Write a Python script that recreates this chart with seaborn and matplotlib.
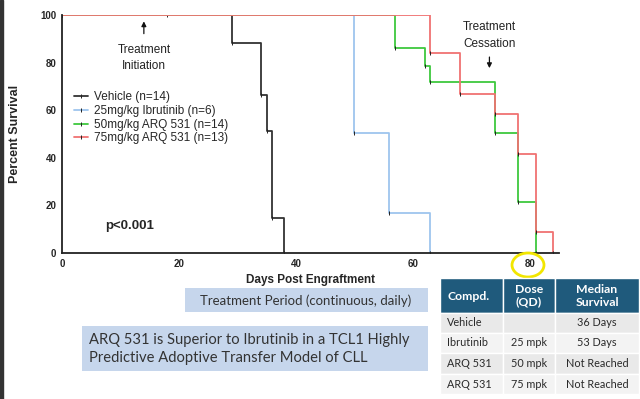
import pandas as pd
import numpy as np
import matplotlib
matplotlib.use("Agg")
from matplotlib import pyplot as plt
from matplotlib.patches import Rectangle, Ellipse
import seaborn as sns

# Kaplan-Meier steps (day, percent survival after the step)
groups = ["Vehicle (n=14)", "25mg/kg Ibrutinib (n=6)", "50mg/kg ARQ 531 (n=14)", "75mg/kg ARQ 531 (n=13)"]
vehicle_days = [0, 18, 29, 34, 35, 36, 38]
vehicle_surv = [100, 100, 88.4, 66.4, 51.3, 14.6, 0]
ibru_days = [0, 50, 56, 63]
ibru_surv = [100, 50.3, 16.7, 0]
arq50_days = [0, 57, 62, 63, 74, 78, 81]
arq50_surv = [100, 86.3, 78.7, 71.7, 50.3, 21.3, 0]
arq75_days = [0, 63, 68, 74, 78, 81, 84]
arq75_surv = [100, 83.9, 66.8, 58.4, 41.7, 8.7, 0]
colors = ["#333333", "#9ec5ee", "#3ec83e", "#f07272"]

x_ticks = [0, 20, 40, 60, 80]
y_ticks = [0, 20, 40, 60, 80, 100]

table_header = ["Compd.", "Dose\n(QD)", "Median\nSurvival"]
table_rows = [["Vehicle", "", "36 Days"],
              ["Ibrutinib", "25 mpk", "53 Days"],
              ["ARQ 531", "50 mpk", "Not Reached"],
              ["ARQ 531", "75 mpk", "Not Reached"]]

frames = []
for name, d, s in zip(groups,
                      [vehicle_days, ibru_days, arq50_days, arq75_days],
                      [vehicle_surv, ibru_surv, arq50_surv, arq75_surv]):
    frames.append(pd.DataFrame({"day": d, "survival": s, "group": name}))
df = pd.concat(frames, ignore_index=True)

sns.set_style("white")
plt.rcParams["font.family"] = ["Liberation Sans", "DejaVu Sans"]

fig = plt.figure(figsize=(6.4, 3.99), dpi=100)
ax = fig.add_axes([62 / 640, 1 - 253 / 399, (559 - 62) / 640, (253 - 15) / 399])

sns.lineplot(data=df, x="day", y="survival", hue="group", hue_order=groups,
             palette=colors, drawstyle="steps-post", estimator=None,
             linewidth=1.3, marker="|", markersize=2.2, markeredgecolor="#222222",
             markeredgewidth=0.7, ax=ax, legend=True)

ax.set_xlim(0, 85)
ax.set_ylim(0, 100)
ax.set_xticks(x_ticks)
ax.set_yticks(y_ticks)
ax.tick_params(axis="both", direction="out", length=3, width=1, labelsize=7, pad=1)
for lab in ax.get_xticklabels() + ax.get_yticklabels():
    lab.set_fontweight("bold")
for sp in ["top", "right"]:
    ax.spines[sp].set_visible(False)
for sp in ["left", "bottom"]:
    ax.spines[sp].set_color("#222222")
    ax.spines[sp].set_linewidth(1.3)
ax.patch.set_alpha(0)
ax.set_xlabel("Days Post Engraftment", fontsize=8.5, fontweight="bold", labelpad=4)
ax.set_ylabel("Percent Survival", fontsize=9, fontweight="bold", labelpad=14)

leg = ax.legend(loc="upper left", bbox_to_anchor=(0.015, 0.7), frameon=False,
                fontsize=8.5, handlelength=1.2, handletextpad=0.5,
                labelspacing=0.15, borderaxespad=0)

ax.text(14, 85.5, "Treatment", ha="center", va="center", fontsize=8.5, color="#222222")
ax.text(14, 78.5, "Initiation", ha="center", va="center", fontsize=8.5, color="#222222")
ax.annotate("", xy=(14, 98.5), xytext=(14, 91),
            arrowprops=dict(arrowstyle="-|>", color="#111111", lw=0.9, mutation_scale=7))
ax.text(73.1, 95, "Treatment", ha="center", va="center", fontsize=8.5, color="#222222")
ax.text(73.1, 88, "Cessation", ha="center", va="center", fontsize=8.5, color="#222222")
ax.annotate("", xy=(73.1, 76.5), xytext=(73.1, 83.5),
            arrowprops=dict(arrowstyle="-|>", color="#111111", lw=0.9, mutation_scale=7))
ax.text(11.6, 11.5, "p<0.001", ha="center", va="center", fontsize=9.5, fontweight="bold")

# slide overlay in pixel coordinates
ov = fig.add_axes([0, 0, 1, 1])
ov.set_xlim(0, 640)
ov.set_ylim(399, 0)
ov.axis("off")
ov.patch.set_visible(False)

ov.add_patch(Rectangle((0, 0), 3, 399, color="#333333"))
ov.add_patch(Ellipse((528, 265), 32, 24, fill=False, edgecolor="#f2e600", lw=2))

box_font = ["Lato", "DejaVu Sans"]
ov.add_patch(Rectangle((185, 288), 243, 24, color="#c6d6ec", lw=0))
ov.text(306, 300.5, "Treatment Period (continuous, daily)", ha="center", va="center",
        fontsize=9.5, color="#333333", family=box_font)
ov.add_patch(Rectangle((82, 326), 346, 45, color="#c6d6ec", lw=0))
ov.text(89, 349, "ARQ 531 is Superior to Ibrutinib in a TCL1 Highly\nPredictive Adoptive Transfer Model of CLL",
        ha="left", va="center", fontsize=10.6, color="#333333", family=box_font, linespacing=1.45)

col_edges = [440, 503, 555, 639]
row_edges = [278, 313, 333, 353, 374, 394]
row_fill = ["#e9e9e9", "#f3f3f3", "#e9e9e9", "#f3f3f3"]
for c in range(3):
    x0, x1 = col_edges[c], col_edges[c + 1]
    ov.add_patch(Rectangle((x0, row_edges[0]), x1 - x0, row_edges[1] - row_edges[0],
                           facecolor="#1f5a7c", edgecolor="white", lw=1))
    if c == 0:
        ov.text(x0 + 7, 296, table_header[c], ha="left", va="center", fontsize=8.8,
                fontweight="bold", color="white", family=box_font)
    else:
        ov.text((x0 + x1) / 2, 296, table_header[c], ha="center", va="center", fontsize=8.8,
                fontweight="bold", color="white", family=box_font, linespacing=1.15)
    for r, row in enumerate(table_rows):
        y0, y1 = row_edges[r + 1], row_edges[r + 2]
        ov.add_patch(Rectangle((x0, y0), x1 - x0, y1 - y0, facecolor=row_fill[r],
                               edgecolor="white", lw=1))
        if c == 0:
            ov.text(x0 + 7, (y0 + y1) / 2, row[c], ha="left", va="center", fontsize=7.8,
                    color="#2a2a2a", family=box_font)
        else:
            ov.text((x0 + x1) / 2, (y0 + y1) / 2, row[c], ha="center", va="center",
                    fontsize=7.8, color="#2a2a2a", family=box_font)

fig.savefig("out.png", dpi=100)
